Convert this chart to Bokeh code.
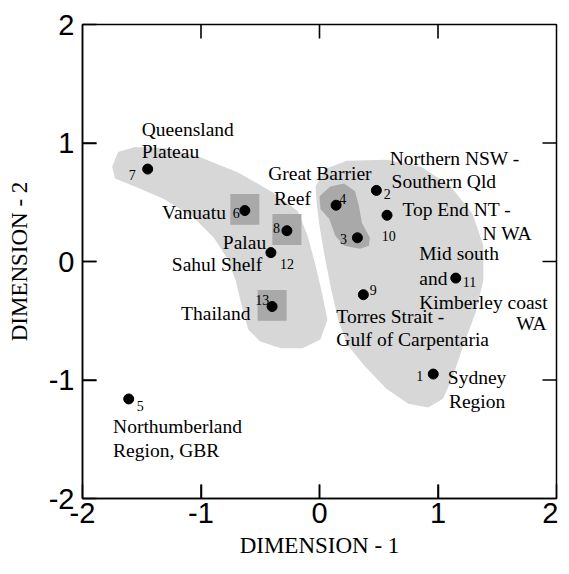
from bokeh.plotting import figure
from bokeh.models import FixedTicker
from bokeh.core.properties import value
from bokeh.embed import file_html
from bokeh.resources import INLINE

# ---- data -------------------------------------------------------------
site_id = ["1", "2", "3", "4", "5", "6", "7", "8", "9", "10", "11", "12", "13"]
site_x = [0.96, 0.48, 0.32, 0.14, -1.61, -0.63, -1.45, -0.275, 0.37, 0.57, 1.15, -0.41, -0.40]
site_y = [-0.95, 0.60, 0.20, 0.475, -1.16, 0.43, 0.78, 0.26, -0.28, 0.39, -0.14, 0.075, -0.38]

# number labels next to each point
num_x = [0.875, 0.542, 0.233, 0.167, -1.542, -0.733, -1.55, -0.392, 0.425, 0.525, 1.208, -0.333, -0.542]
num_y = [-0.967, 0.567, 0.192, 0.525, -1.217, 0.408, 0.733, 0.283, -0.242, 0.217, -0.175, -0.025, -0.325]
num_align = ["right", "left", "right", "left", "left", "left", "right", "left", "left", "left", "left", "left", "left"]

# region names (one entry per text line)
name_text = ["Queensland", "Plateau", "Vanuatu", "Great Barrier", "Reef", "Palau",
             "Sahul Shelf", "Thailand", "Northern NSW -", "Southern Qld", "Top End NT -",
             "N WA", "Mid south", "and", "Kimberley coast", "WA", "Torres Strait -",
             "Gulf of Carpentaria", "Sydney", "Region", "Northumberland", "Region, GBR"]
name_x = [-1.5, -1.5, -0.79, -0.433, -0.383, -0.45, -0.483, -0.583, 0.592, 0.608, 0.70,
          1.792, 0.842, 0.842, 0.842, 1.917, 0.142, 0.142, 1.083, 1.092, -1.742, -1.742]
name_y = [1.117, 0.925, 0.417, 0.742, 0.533, 0.158, -0.025, -0.442, 0.867, 0.675, 0.442,
          0.233, 0.067, -0.142, -0.342, -0.525, -0.467, -0.658, -0.983, -1.183, -1.392, -1.592]
name_align = ["left", "left", "right", "left", "left", "right", "right", "right", "left", "left",
              "left", "right", "left", "left", "left", "right", "left", "left", "left", "left",
              "left", "left"]

# group outlines
left_group_x = [-1.75, -1.70, -1.558, -1.308, -1.017, -0.683, -0.392, -0.183, -0.10, -0.033,
                0.025, 0.067, 0.008, -0.142, -0.325, -0.50, -0.60, -0.658, -0.708, -0.783,
                -0.892, -1.058, -1.308, -1.558, -1.725]
left_group_y = [0.80, 0.925, 0.967, 0.958, 0.883, 0.75, 0.583, 0.425, 0.217, -0.033,
                -0.283, -0.492, -0.658, -0.733, -0.733, -0.675, -0.575, -0.367, -0.158, 0.033,
                0.20, 0.367, 0.525, 0.633, 0.70]
right_group_x = [-0.033, 0.05, 0.233, 0.567, 0.858, 1.108, 1.292, 1.383, 1.383, 1.317, 1.217,
                 1.117, 1.042, 0.917, 0.75, 0.567, 0.383, 0.233, 0.158, 0.10, 0.042, 0.0, -0.025]
right_group_y = [0.633, 0.783, 0.85, 0.858, 0.80, 0.633, 0.40, 0.133, -0.158, -0.433, -0.70,
                 -0.992, -1.158, -1.233, -1.20, -1.075, -0.883, -0.70, -0.492, -0.242, 0.05, 0.30, 0.508]
gbr_group_x = [0.0, 0.092, 0.208, 0.30, 0.333, 0.358, 0.425, 0.417, 0.342, 0.208, 0.133, 0.083, 0.008]
gbr_group_y = [0.55, 0.633, 0.658, 0.592, 0.467, 0.325, 0.20, 0.133, 0.108, 0.133, 0.217, 0.358, 0.442]
boxed_sites = ["6", "8", "13"]

ticks = [-2, -1, 0, 1, 2]
inner_ticks = [-1, 0, 1]
lo, hi = ticks[0], ticks[-1]

# ---- figure -------------------------------------------------------------
FRAME = 474
p = figure(frame_width=FRAME, frame_height=FRAME, x_range=(lo, hi), y_range=(lo, hi),
           output_backend="svg", toolbar_location=None,
           min_border_left=82, min_border_right=2, min_border_top=24, min_border_bottom=10)
p.grid.visible = False
p.outline_line_color = "black"
p.outline_line_width = 1.5
p.background_fill_color = "white"

LIGHT = "#d7d7d7"
DARK = "#a9a9a9"

p.patch(left_group_x, left_group_y, fill_color=LIGHT, line_color=None)
p.patch(right_group_x, right_group_y, fill_color=LIGHT, line_color=None)
p.patch(gbr_group_x, gbr_group_y, fill_color=DARK, line_color=None)

box_idx = [site_id.index(s) for s in boxed_sites]
p.rect([site_x[i] for i in box_idx], [site_y[i] + 0.01 for i in box_idx],
       width=0.245, height=0.26, fill_color=DARK, line_color=None)

# inward ticks on all four frame edges (stroked segments, 14 px long)
px = (hi - lo) / FRAME          # one screen pixel in data units
tl = 14 * px
n = len(inner_ticks)
tick_style = dict(line_color="black", line_width=1.6)
p.segment(x0=inner_ticks, y0=[lo] * n, x1=inner_ticks, y1=[lo + tl] * n, **tick_style)
p.segment(x0=inner_ticks, y0=[hi] * n, x1=inner_ticks, y1=[hi - tl] * n, **tick_style)
p.segment(x0=[lo] * n, y0=inner_ticks, x1=[lo + tl] * n, y1=inner_ticks, **tick_style)
p.segment(x0=[hi] * n, y0=inner_ticks, x1=[hi - tl] * n, y1=inner_ticks, **tick_style)

p.scatter(site_x, site_y, size=10, color="black")

serif = value("Liberation Serif")
for align in ("left", "right"):
    idx = [i for i, a in enumerate(num_align) if a == align]
    p.text([num_x[i] for i in idx], [num_y[i] for i in idx], text=[site_id[i] for i in idx],
           text_align=align, text_baseline="alphabetic", text_font=serif,
           text_font_size=value("14px"), text_color="black")
    idx = [i for i, a in enumerate(name_align) if a == align]
    p.text([name_x[i] for i in idx], [name_y[i] for i in idx], text=[name_text[i] for i in idx],
           text_align=align, text_baseline="alphabetic", text_font=serif,
           text_font_size=value("19.5px"), text_color="black")

overrides = {t: str(t) for t in ticks}

for ax in (p.xaxis[0], p.yaxis[0]):
    ax.ticker = FixedTicker(ticks=ticks)
    ax.major_tick_in = 14
    ax.major_tick_out = 0
    ax.minor_tick_line_color = None
    ax.major_tick_line_color = "black"
    ax.major_tick_line_width = 1.5
    ax.axis_line_color = "black"
    ax.axis_line_width = 1.5
    ax.major_label_overrides = overrides
    ax.major_label_text_font = "Liberation Sans"
    ax.major_label_text_font_size = "29px"
    ax.major_label_text_color = "black"
    ax.axis_label_text_font = "Liberation Serif"
    ax.axis_label_text_font_size = "23px"
    ax.axis_label_text_font_style = "normal"
    ax.axis_label_text_color = "black"

xa = p.xaxis[0]
ya = p.yaxis[0]
xa.axis_label = "DIMENSION - 1"
ya.axis_label = "DIMENSION - 2"
xa.major_label_standoff = 4
xa.axis_label_standoff = 7
ya.major_label_standoff = 8
ya.axis_label_standoff = 14

open("out.html", "w").write(file_html(p, INLINE))
